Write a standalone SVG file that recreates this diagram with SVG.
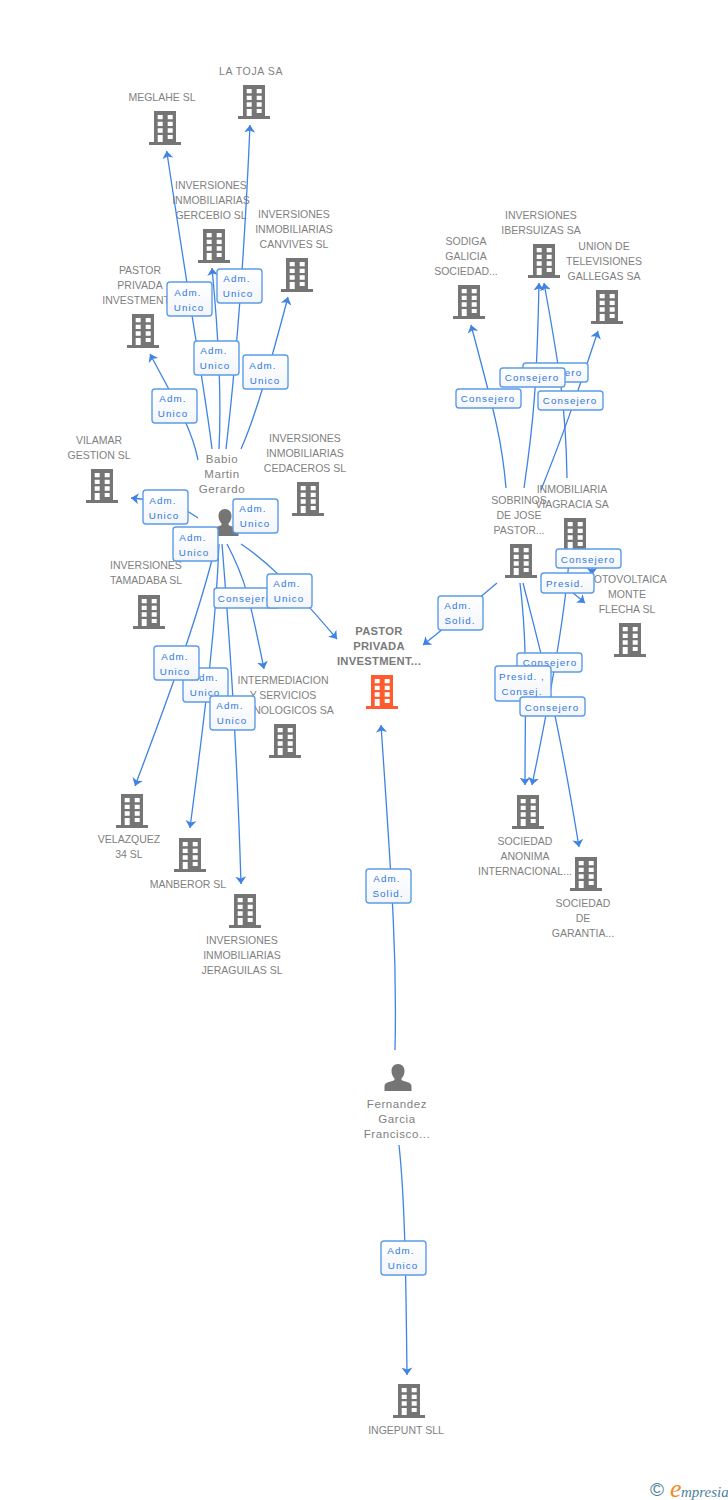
<svg xmlns="http://www.w3.org/2000/svg" width="728" height="1500" viewBox="0 0 728 1500">
<style>
text{font-family:"Liberation Sans",Arial,sans-serif}
.n text{font-size:10.5px;fill:#7f7f7f;text-anchor:middle}
.p text{font-size:11.5px;letter-spacing:.6px;fill:#7f7f7f;text-anchor:middle}
.c text{font-size:11.2px;font-weight:bold;fill:#7a7a7a;text-anchor:middle;letter-spacing:.3px}
.l path{fill:none;stroke:#3f83e4;stroke-width:1.3;marker-end:url(#a)}
.b rect{fill:url(#g);stroke:#5c9ce8;stroke-width:1.4}
.b text{font-size:9.8px;letter-spacing:1.1px;fill:#2f78e0;text-anchor:middle}
</style>
<defs>
<linearGradient id="g" x1="0" y1="0" x2="0" y2="1"><stop offset="0" stop-color="#fff"/><stop offset="1" stop-color="#f3f5f8"/></linearGradient>
<marker id="a" markerUnits="userSpaceOnUse" markerWidth="8" markerHeight="12" refX="7.500" refY="6" orient="auto"><path d="M7.500,6L0,.5L2,6L0,11.500Z" fill="#3f83e4"/></marker>
<g id="bld"><path fill-rule="evenodd" d="M-11,0H11V31H16V34H-16V31H-11ZM-7.300,4V8.300H-2.300V4ZM2.700,4V8.300H7.700V4ZM-7.300,10.700V15H-2.300V10.700ZM2.700,10.700V15H7.700V10.700ZM-7.300,17.300V21.700H-2.300V17.300ZM2.700,17.300V21.700H7.700V17.300ZM-7.300,24V31H-2.300V24ZM2.700,24V28H7.700V24Z"/></g>
<g id="per"><path d="M0,0C4,0 6.500,3 6.500,7C6.500,10 5.500,12 3.500,14.500V16C7,18 13.500,18 13.500,22V27H-13.500V22C-13.500,18 -7,18 -3.500,16V14.500C-5.500,12 -6.500,10 -6.500,7C-6.500,3 -4,0 0,0Z"/></g>
</defs>
<rect width="728" height="1500" fill="#fff"/>

<g id="n-latoja" class="n"><use href="#bld" x="254" y="85" fill="#757575"/><text x="251" y="75" style="letter-spacing:.6px">LA TOJA SA</text></g>
<g id="n-meglahe" class="n"><use href="#bld" x="165" y="111" fill="#757575"/><text x="162" y="101">MEGLAHE SL</text></g>
<g id="n-gercebio" class="n"><use href="#bld" x="214" y="229" fill="#757575"/><text x="211" y="189">INVERSIONES</text><text x="211" y="204">INMOBILIARIAS</text><text x="211" y="219">GERCEBIO SL</text></g>
<g id="n-canvives" class="n"><use href="#bld" x="297" y="258" fill="#757575"/><text x="294" y="218">INVERSIONES</text><text x="294" y="233">INMOBILIARIAS</text><text x="294" y="248">CANVIVES SL</text></g>
<g id="n-pastor2" class="n"><use href="#bld" x="143" y="314" fill="#757575"/><text x="140" y="274">PASTOR</text><text x="140" y="289">PRIVADA</text><text x="140" y="304">INVESTMENT...</text></g>
<g id="n-vilamar" class="n"><use href="#bld" x="102" y="469" fill="#757575"/><text x="99" y="444">VILAMAR</text><text x="99" y="459">GESTION SL</text></g>
<g id="n-cedaceros" class="n"><use href="#bld" x="308" y="482" fill="#757575"/><text x="305" y="442">INVERSIONES</text><text x="305" y="457">INMOBILIARIAS</text><text x="305" y="472">CEDACEROS SL</text></g>
<g id="n-tamadaba" class="n"><use href="#bld" x="149" y="595" fill="#757575"/><text x="146" y="569">INVERSIONES</text><text x="146" y="584">TAMADABA SL</text></g>
<g id="n-intermediacion" class="n"><use href="#bld" x="285" y="724" fill="#757575"/><text x="283" y="684">INTERMEDIACION</text><text x="283" y="699">Y SERVICIOS</text><text x="283" y="714">TECNOLOGICOS SA</text></g>
<g id="n-velazquez" class="n"><use href="#bld" x="132" y="794" fill="#757575"/><text x="129" y="843">VELAZQUEZ</text><text x="129" y="858">34 SL</text></g>
<g id="n-manberor" class="n"><use href="#bld" x="190" y="838" fill="#757575"/><text x="188" y="888">MANBEROR SL</text></g>
<g id="n-jeraguilas" class="n"><use href="#bld" x="245" y="894" fill="#757575"/><text x="242" y="944">INVERSIONES</text><text x="242" y="959">INMOBILIARIAS</text><text x="242" y="974">JERAGUILAS SL</text></g>
<g id="n-sodiga" class="n"><use href="#bld" x="469" y="285" fill="#757575"/><text x="466" y="245">SODIGA</text><text x="466" y="260">GALICIA</text><text x="466" y="275">SOCIEDAD...</text></g>
<g id="n-ibersuizas" class="n"><use href="#bld" x="544" y="244" fill="#757575"/><text x="541" y="219">INVERSIONES</text><text x="541" y="234">IBERSUIZAS SA</text></g>
<g id="n-union" class="n"><use href="#bld" x="607" y="290" fill="#757575"/><text x="604" y="250">UNION DE</text><text x="604" y="265">TELEVISIONES</text><text x="604" y="280">GALLEGAS SA</text></g>
<g id="n-inmobiliaria" class="n"><use href="#bld" x="575" y="518" fill="#757575"/><text x="572" y="493">INMOBILIARIA</text><text x="572" y="508">VIAGRACIA SA</text></g>
<g id="n-sobrinos" class="n"><use href="#bld" x="521" y="544" fill="#757575"/><text x="519" y="504">SOBRINOS</text><text x="519" y="519">DE JOSE</text><text x="519" y="534">PASTOR...</text></g>
<g id="n-fotovoltaica" class="n"><use href="#bld" x="630" y="623" fill="#757575"/><text x="627" y="583">FOTOVOLTAICA</text><text x="627" y="598">MONTE</text><text x="627" y="613">FLECHA SL</text></g>
<g id="n-anonima" class="n"><use href="#bld" x="528" y="795" fill="#757575"/><text x="525" y="845">SOCIEDAD</text><text x="525" y="860">ANONIMA</text><text x="525" y="875">INTERNACIONAL...</text></g>
<g id="n-garantia" class="n"><use href="#bld" x="586" y="857" fill="#757575"/><text x="583" y="907">SOCIEDAD</text><text x="583" y="922">DE</text><text x="583" y="937">GARANTIA...</text></g>
<g id="n-ingepunt" class="n"><use href="#bld" x="409" y="1384" fill="#757575"/><text x="406" y="1434">INGEPUNT SLL</text></g>
<g id="n-center" class="c"><use href="#bld" x="382" y="675" fill="#ff5b2e"/><text x="379" y="635">PASTOR</text><text x="379" y="650">PRIVADA</text><text x="379" y="665">INVESTMENT...</text></g>
<g id="n-babio" class="p"><use href="#per" x="225" y="509" fill="#757575"/><text x="222" y="463">Babio</text><text x="222" y="478">Martin</text><text x="222" y="493">Gerardo</text></g>
<g id="n-fernandez" class="p"><use href="#per" x="398" y="1064" fill="#757575"/><text x="397" y="1108">Fernandez</text><text x="397" y="1123">Garcia</text><text x="397" y="1138">Francisco...</text></g>

<g id="connectors" class="l">
<path d="M212,449C207,405 196,345 166.700,151"/>
<path d="M226,449C234,380 243,290 250,125"/>
<path d="M219,449C222,390 218,330 212,268"/>
<path d="M241,449C256,415 270,365 288,297"/>
<path d="M198,460C192,430 180,410 150,354"/>
<path d="M198,518C180,505 165,501 131,498"/>
<path d="M216,544C200,610 175,680 135,786"/>
<path d="M219,544C216,620 208,690 190,828"/>
<path d="M222,544C228,620 236,720 241,884"/>
<path d="M227,544C246,580 250,600 264,669"/>
<path d="M241,544C265,560 285,578 337,639"/>
<path d="M506,488C502,440 495,415 471,325"/>
<path d="M524,488C534,420 537,380 539,283"/>
<path d="M567,478C566,410 560,370 544,283"/>
<path d="M541,490C565,430 575,400 598,331"/>
<path d="M497,583C480,597 455,620 423,645"/>
<path d="M573,593C577,596 580,599 585,603"/>
<path d="M569,560C566,600 558,660 532,785"/>
<path d="M520,583C528,650 525,700 525,785"/>
<path d="M523,583C540,650 555,700 579,847"/>
<path d="M395,1050C397,960 393,900 381,725"/>
<path d="M399,1145C405,1200 406,1280 407,1375"/>
<path d="M592,562L592,575"/>
</g>

<g id="labels" class="b">
<g><rect x="167" y="282" width="45" height="34" rx="3"/><text x="188" y="296">Adm.</text><text x="189" y="311">Unico</text></g>
<g><rect x="217" y="269" width="45" height="34" rx="3"/><text x="237" y="282">Adm.</text><text x="238" y="297">Unico</text></g>
<g><rect x="194" y="341" width="45" height="34" rx="3"/><text x="214" y="354">Adm.</text><text x="215" y="369">Unico</text></g>
<g><rect x="243" y="355" width="45" height="34" rx="3"/><text x="263" y="369">Adm.</text><text x="265" y="384">Unico</text></g>
<g><rect x="152" y="389" width="45" height="34" rx="3"/><text x="173" y="402">Adm.</text><text x="173" y="417">Unico</text></g>
<g><rect x="143" y="490" width="45" height="34" rx="3"/><text x="163" y="504">Adm.</text><text x="164" y="519">Unico</text></g>
<g><rect x="233" y="499" width="45" height="34" rx="3"/><text x="253" y="512">Adm.</text><text x="255" y="527">Unico</text></g>
<g><rect x="173" y="527" width="45" height="34" rx="3"/><text x="193" y="541">Adm.</text><text x="194" y="556">Unico</text></g>
<g><rect x="214" y="588" width="65" height="20" rx="3"/><text x="245" y="602">Consejero</text></g>
<g><rect x="267" y="574" width="45" height="34" rx="3"/><text x="287" y="587">Adm.</text><text x="289" y="602">Unico</text></g>
<g><rect x="183" y="668" width="45" height="34" rx="3"/><text x="205" y="681">Adm.</text><text x="205" y="696">Unico</text></g>
<g><rect x="154" y="646" width="45" height="34" rx="3"/><text x="175" y="660">Adm.</text><text x="175" y="675">Unico</text></g>
<g><rect x="210" y="696" width="45" height="34" rx="3"/><text x="230" y="709">Adm.</text><text x="232" y="724">Unico</text></g>
<g><rect x="456" y="389" width="65" height="19" rx="3"/><text x="488" y="402">Consejero</text></g>
<g><rect x="523" y="363" width="65" height="19" rx="3"/><text x="555" y="376">Consejero</text></g>
<g><rect x="500" y="368" width="65" height="19" rx="3"/><text x="532" y="381">Consejero</text></g>
<g><rect x="538" y="391" width="65" height="19" rx="3"/><text x="570" y="404">Consejero</text></g>
<g><rect x="438" y="596" width="45" height="34" rx="3"/><text x="458" y="609">Adm.</text><text x="460" y="624">Solid.</text></g>
<g><rect x="556" y="549" width="65" height="19" rx="3"/><text x="588" y="563">Consejero</text></g>
<g><rect x="541" y="573" width="53" height="20" rx="3"/><text x="565" y="587">Presid.</text></g>
<g><rect x="517" y="653" width="65" height="19" rx="3"/><text x="550" y="666">Consejero</text></g>
<g><rect x="495" y="666" width="56" height="35" rx="3"/><text x="522" y="680">Presid. ,</text><text x="522" y="695">Consej.</text></g>
<g><rect x="520" y="697" width="65" height="19" rx="3"/><text x="552" y="711">Consejero</text></g>
<g><rect x="366" y="869" width="45" height="34" rx="3"/><text x="387" y="882">Adm.</text><text x="388" y="897">Solid.</text></g>
<g><rect x="381" y="1241" width="45" height="34" rx="3"/><text x="401" y="1254">Adm.</text><text x="403" y="1269">Unico</text></g>
</g>

<g id="logo"><text x="650" y="1496" font-size="19" fill="#4d819b">©</text><text x="670" y="1497" font-size="26" font-style="italic" style="font-family:'Liberation Serif',serif" fill="#f08a24">e</text><text x="681" y="1497" font-size="15" font-style="italic" style="font-family:'Liberation Serif',serif" fill="#4d819b">mpresia</text></g>
</svg>
